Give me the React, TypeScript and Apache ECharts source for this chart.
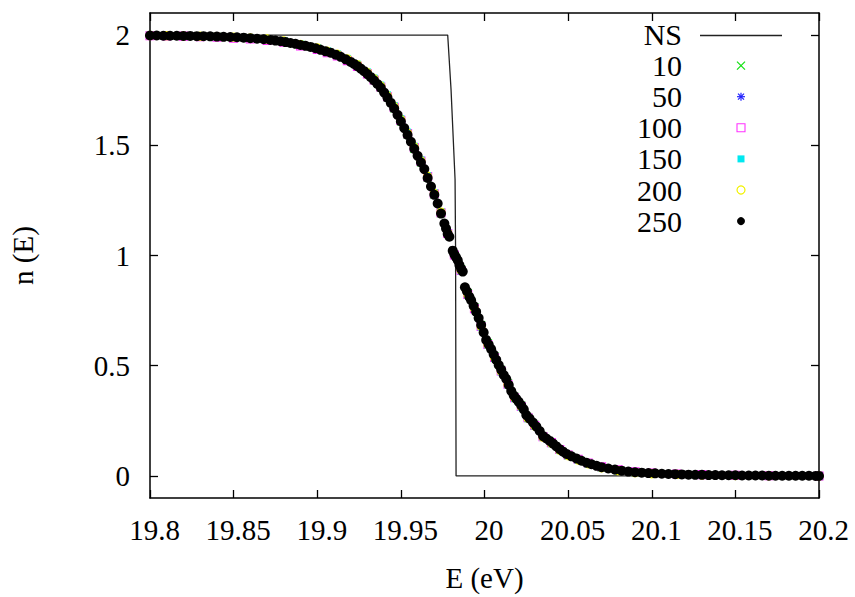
import React, { useEffect, useRef } from 'react';
import * as echarts from 'echarts';

const X_TICKS = [19.8, 19.85, 19.9, 19.95, 20, 20.05, 20.1, 20.15, 20.2];
const Y_TICKS = [0, 0.5, 1, 1.5, 2];
const LEGEND_LABELS = ['NS', '10', '50', '100', '150', '200', '250'];

// NS step curve
const NS_E = [19.8, 19.978, 19.98, 19.9824, 19.9827, 19.983, 20.2];
const NS_N = [2, 2, 1.752, 1.345, 1.03, 0, 0];

// N = 250 (black dots, dense)
const E250 = [
  19.800, 19.804, 19.808, 19.812, 19.816, 19.820, 19.824, 19.828, 19.832, 19.836,
  19.840, 19.844, 19.848, 19.852, 19.856, 19.860, 19.864, 19.868, 19.872, 19.875,
  19.878, 19.881, 19.884, 19.887, 19.890, 19.893, 19.896, 19.899, 19.902, 19.905,
  19.908, 19.911, 19.914, 19.917, 19.920, 19.922, 19.924, 19.926, 19.928, 19.930,
  19.932, 19.934, 19.936, 19.938, 19.940, 19.942, 19.944, 19.946, 19.948, 19.950,
  19.952, 19.954, 19.956, 19.958, 19.960, 19.962, 19.964, 19.966, 19.968, 19.970,
  19.972, 19.974, 19.976, 19.977, 19.978, 19.979, 19.981, 19.982, 19.983, 19.984,
  19.985, 19.986, 19.987, 19.9883, 19.9895, 19.991, 19.992, 19.9935, 19.995, 19.9965,
  19.998, 19.9995, 20.001, 20.0025, 20.004, 20.0055, 20.007, 20.0085, 20.010, 20.0115,
  20.013, 20.0145, 20.016, 20.0175, 20.019, 20.0205, 20.022, 20.0235, 20.025, 20.027,
  20.029, 20.031, 20.033, 20.035, 20.037, 20.039, 20.041, 20.043, 20.045, 20.047,
  20.049, 20.052, 20.055, 20.058, 20.061, 20.064, 20.067, 20.070, 20.074, 20.078,
  20.082, 20.086, 20.090, 20.094, 20.098, 20.102, 20.106, 20.110, 20.114, 20.118,
  20.122, 20.126, 20.130, 20.134, 20.138, 20.142, 20.146, 20.150, 20.154, 20.158,
  20.162, 20.166, 20.170, 20.174, 20.178, 20.182, 20.186, 20.190, 20.194, 20.198,
  20.200,
];
const N250 = [
  1.998, 1.998, 1.997, 1.997, 1.997, 1.996, 1.996, 1.995, 1.995, 1.994,
  1.993, 1.992, 1.991, 1.990, 1.988, 1.986, 1.983, 1.981, 1.978, 1.975,
  1.972, 1.968, 1.964, 1.960, 1.955, 1.951, 1.946, 1.940, 1.933, 1.926,
  1.920, 1.911, 1.901, 1.890, 1.878, 1.869, 1.859, 1.848, 1.836, 1.823,
  1.809, 1.794, 1.778, 1.761, 1.739, 1.716, 1.692, 1.667, 1.638, 1.608,
  1.578, 1.547, 1.516, 1.484, 1.452, 1.422, 1.392, 1.352, 1.313, 1.275,
  1.236, 1.190, 1.145, 1.122, 1.098, 1.085, 1.022, 1.005, 0.992, 0.978,
  0.957, 0.940, 0.927, 0.856, 0.838, 0.812, 0.797, 0.772, 0.745, 0.716,
  0.685, 0.651, 0.617, 0.596, 0.575, 0.551, 0.527, 0.503, 0.482, 0.458,
  0.440, 0.413, 0.385, 0.365, 0.350, 0.336, 0.320, 0.302, 0.276, 0.260,
  0.242, 0.224, 0.204, 0.181, 0.170, 0.159, 0.147, 0.134, 0.121, 0.110,
  0.100, 0.089, 0.079, 0.069, 0.060, 0.053, 0.046, 0.040, 0.034, 0.029,
  0.024, 0.020, 0.017, 0.015, 0.013, 0.012, 0.010, 0.009, 0.008, 0.007,
  0.006, 0.005, 0.005, 0.004, 0.004, 0.003, 0.003, 0.003, 0.002, 0.002,
  0.002, 0.002, 0.001, 0.001, 0.001, 0.001, 0.001, 0.001, 0.001, 0.000,
  0.000,
];

// Other N values (coarser sampling, mostly hidden beneath the black dots)
const E_COARSE = [
  19.800, 19.810, 19.820, 19.830, 19.840, 19.850, 19.860, 19.870, 19.880, 19.890,
  19.900, 19.906, 19.912, 19.918, 19.924, 19.930, 19.934, 19.938, 19.942, 19.946,
  19.950, 19.954, 19.958, 19.962, 19.966, 19.970, 19.974, 19.978, 19.982, 19.986,
  19.990, 19.994, 19.998, 20.002, 20.006, 20.010, 20.014, 20.018, 20.022, 20.026,
  20.030, 20.035, 20.040, 20.045, 20.050, 20.056, 20.062, 20.070, 20.080, 20.090,
  20.100, 20.115, 20.130, 20.150, 20.170, 20.200,
];
const N10 = [
  1.998, 1.997, 1.996, 1.995, 1.993, 1.990, 1.986, 1.980, 1.971, 1.955,
  1.939, 1.924, 1.909, 1.887, 1.860, 1.824, 1.795, 1.762, 1.717, 1.668,
  1.609, 1.548, 1.485, 1.423, 1.353, 1.276, 1.191, 1.099, 1.004, 0.938,
  0.829, 0.765, 0.684, 0.602, 0.542, 0.481, 0.421, 0.359, 0.319, 0.267,
  0.232, 0.180, 0.152, 0.120, 0.095, 0.075, 0.057, 0.039, 0.025, 0.016,
  0.011, 0.007, 0.005, 0.003, 0.001, 0.000,
];
const N50 = [
  1.998, 1.997, 1.996, 1.995, 1.993, 1.990, 1.986, 1.980, 1.971, 1.956,
  1.939, 1.924, 1.909, 1.888, 1.861, 1.825, 1.796, 1.763, 1.718, 1.669,
  1.610, 1.549, 1.486, 1.424, 1.354, 1.277, 1.192, 1.099, 1.003, 0.937,
  0.828, 0.764, 0.683, 0.601, 0.541, 0.480, 0.420, 0.358, 0.318, 0.266,
  0.231, 0.180, 0.152, 0.120, 0.095, 0.075, 0.057, 0.039, 0.025, 0.016,
  0.011, 0.007, 0.004, 0.002, 0.001, 0.000,
];
const N100 = [
  1.997, 1.996, 1.995, 1.993, 1.990, 1.986, 1.982, 1.976, 1.967, 1.951,
  1.935, 1.920, 1.905, 1.884, 1.858, 1.824, 1.796, 1.764, 1.720, 1.672,
  1.613, 1.553, 1.490, 1.428, 1.358, 1.280, 1.194, 1.100, 1.002, 0.932,
  0.823, 0.759, 0.678, 0.596, 0.537, 0.476, 0.416, 0.355, 0.315, 0.264,
  0.229, 0.178, 0.151, 0.120, 0.095, 0.076, 0.059, 0.042, 0.028, 0.019,
  0.013, 0.009, 0.006, 0.003, 0.001, 0.000,
];
const N150 = [
  1.998, 1.997, 1.996, 1.995, 1.993, 1.991, 1.987, 1.982, 1.974, 1.959,
  1.943, 1.929, 1.915, 1.894, 1.868, 1.833, 1.805, 1.773, 1.729, 1.680,
  1.621, 1.560, 1.496, 1.434, 1.363, 1.285, 1.199, 1.105, 1.003, 0.930,
  0.820, 0.756, 0.675, 0.593, 0.533, 0.472, 0.412, 0.351, 0.311, 0.259,
  0.225, 0.174, 0.146, 0.115, 0.090, 0.071, 0.054, 0.037, 0.023, 0.015,
  0.010, 0.006, 0.004, 0.002, 0.001, 0.000,
];
const N200 = [
  1.998, 1.997, 1.996, 1.995, 1.993, 1.991, 1.987, 1.982, 1.973, 1.958,
  1.942, 1.927, 1.913, 1.892, 1.866, 1.830, 1.802, 1.769, 1.725, 1.676,
  1.617, 1.556, 1.493, 1.430, 1.360, 1.282, 1.197, 1.103, 1.003, 0.933,
  0.823, 0.759, 0.678, 0.596, 0.536, 0.475, 0.415, 0.354, 0.314, 0.262,
  0.227, 0.176, 0.148, 0.117, 0.092, 0.072, 0.055, 0.037, 0.024, 0.015,
  0.010, 0.007, 0.004, 0.002, 0.001, 0.000,
];

const FONT = 'Liberation Serif';
const X_PATH = 'path://M0 0L10 10M10 0L0 10';
const STAR_PATH = 'path://M5 0L5 10M0 5L10 5M1.5 1.5L8.5 8.5M8.5 1.5L1.5 8.5';

const C_GREEN = '#11e011';
const C_BLUE = '#2222ff';
const C_MAGENTA = '#ff33ff';
const C_CYAN = '#00e8f0';
const C_YELLOW = '#f2f200';

function pairs(xs: number[], ys: number[]) {
  return xs.map((x, i) => [x, ys[i]]);
}

export default function App() {
  const ref = useRef<HTMLDivElement>(null);
  useEffect(() => {
    if (!ref.current) return;
    const chart = echarts.init(ref.current, null, { renderer: 'svg' });
    const axisLine = { show: true, onZero: false, lineStyle: { color: '#000', width: 1.5 } };
    const tickStyle = { color: '#000', width: 1.3 };
    const labelFont = { fontFamily: FONT, fontSize: 29, color: '#000' };

    const legY0 = 34.5;
    const legDY = 31.1;
    const legTextX = 682;
    const legMarkX = 741;
    const gEls: any[] = [];
    LEGEND_LABELS.forEach((lab, i) => {
      gEls.push({
        type: 'text',
        style: {
          text: lab, x: legTextX, y: legY0 + i * legDY, align: 'right', verticalAlign: 'middle',
          fontFamily: FONT, fontSize: 30, fill: '#000',
        },
        z: 100,
      });
    });
    const yOf = (i: number) => legY0 + i * legDY;
    gEls.push({ type: 'line', shape: { x1: 700, y1: 35.5, x2: 782, y2: 35.5 }, style: { stroke: '#222', lineWidth: 1.3 }, z: 100 });
    gEls.push({ type: 'line', shape: { x1: legMarkX - 4, y1: yOf(1) - 4, x2: legMarkX + 4, y2: yOf(1) + 4 }, style: { stroke: C_GREEN, lineWidth: 1.2 }, z: 100 });
    gEls.push({ type: 'line', shape: { x1: legMarkX + 4, y1: yOf(1) - 4, x2: legMarkX - 4, y2: yOf(1) + 4 }, style: { stroke: C_GREEN, lineWidth: 1.2 }, z: 100 });
    [[0, -4, 0, 4], [-4, 0, 4, 0], [-3, -3, 3, 3], [3, -3, -3, 3]].forEach((s) => {
      gEls.push({ type: 'line', shape: { x1: legMarkX + s[0], y1: yOf(2) + s[1], x2: legMarkX + s[2], y2: yOf(2) + s[3] }, style: { stroke: C_BLUE, lineWidth: 1.2 }, z: 100 });
    });
    gEls.push({ type: 'rect', shape: { x: legMarkX - 4, y: yOf(3) - 4, width: 8, height: 8 }, style: { fill: 'none', stroke: C_MAGENTA, lineWidth: 1.1 }, z: 100 });
    gEls.push({ type: 'rect', shape: { x: legMarkX - 3.5, y: yOf(4) - 3.5, width: 7, height: 7 }, style: { fill: C_CYAN }, z: 100 });
    gEls.push({ type: 'circle', shape: { cx: legMarkX, cy: yOf(5), r: 4 }, style: { fill: 'none', stroke: C_YELLOW, lineWidth: 1.2 }, z: 100 });
    gEls.push({ type: 'circle', shape: { cx: legMarkX, cy: yOf(6), r: 4 }, style: { fill: '#000' }, z: 100 });

    const option: any = {
      animation: false,
      textStyle: { fontFamily: FONT },
      grid: { left: 150, right: 36, top: 13, bottom: 97, containLabel: false },
      xAxis: [
        {
          type: 'value', min: 19.8, max: 20.2, position: 'bottom',
          axisLine,
          axisTick: { show: true, inside: true, length: 8, customValues: X_TICKS, lineStyle: tickStyle },
          axisLabel: { ...labelFont, margin: 17, customValues: X_TICKS, padding: [0, 0, 0, 9] },
          splitLine: { show: false },
          name: 'E (eV)', nameLocation: 'middle', nameGap: 65,
          nameTextStyle: { fontFamily: FONT, fontSize: 29, color: '#000' },
        },
        {
          type: 'value', min: 19.8, max: 20.2, position: 'top',
          axisLine,
          axisTick: { show: true, inside: true, length: 8, customValues: X_TICKS, lineStyle: tickStyle },
          axisLabel: { show: false },
          splitLine: { show: false },
        },
      ],
      yAxis: [
        {
          type: 'value', min: -0.1, max: 2.1, position: 'left',
          axisLine,
          axisTick: { show: true, inside: true, length: 8, customValues: Y_TICKS, lineStyle: tickStyle },
          axisLabel: { ...labelFont, margin: 20, customValues: Y_TICKS },
          splitLine: { show: false },
          name: 'n (E)', nameLocation: 'middle', nameGap: 113, nameRotate: 90,
          nameTextStyle: { fontFamily: FONT, fontSize: 29, color: '#000' },
        },
        {
          type: 'value', min: -0.1, max: 2.1, position: 'right',
          axisLine,
          axisTick: { show: true, inside: true, length: 8, customValues: Y_TICKS, lineStyle: tickStyle },
          axisLabel: { show: false },
          splitLine: { show: false },
        },
      ],
      series: [
        {
          name: 'NS', type: 'line', data: pairs(NS_E, NS_N), showSymbol: false, symbol: 'none',
          lineStyle: { color: '#222', width: 1.3 }, z: 2,
        },
        {
          name: '10', type: 'scatter', data: pairs(E_COARSE, N10), symbol: X_PATH, symbolSize: 8,
          itemStyle: { color: C_GREEN, borderColor: C_GREEN, borderWidth: 1.2, opacity: 1 }, z: 3,
        },
        {
          name: '50', type: 'scatter', data: pairs(E_COARSE, N50), symbol: STAR_PATH, symbolSize: 8,
          itemStyle: { color: C_BLUE, borderColor: C_BLUE, borderWidth: 1.2, opacity: 1 }, z: 3,
        },
        {
          name: '100', type: 'scatter', data: pairs(E_COARSE, N100), symbol: 'rect', symbolSize: 8,
          itemStyle: { color: 'rgba(0,0,0,0)', borderColor: C_MAGENTA, borderWidth: 1.1, opacity: 1 }, z: 3,
        },
        {
          name: '150', type: 'scatter', data: pairs(E_COARSE, N150), symbol: 'rect', symbolSize: 7,
          itemStyle: { color: C_CYAN, opacity: 1 }, z: 3,
        },
        {
          name: '200', type: 'scatter', data: pairs(E_COARSE, N200), symbol: 'circle', symbolSize: 8,
          itemStyle: { color: 'rgba(0,0,0,0)', borderColor: C_YELLOW, borderWidth: 1.2, opacity: 1 }, z: 3,
        },
        {
          name: '250', type: 'scatter', data: pairs(E250, N250), symbol: 'circle', symbolSize: 10,
          itemStyle: { color: '#000', opacity: 1 }, z: 4,
        },
      ],
      graphic: { elements: gEls },
    };
    chart.setOption(option);
    return () => chart.dispose();
  }, []);
  return (
    <div
      ref={ref}
      style={{ position: 'fixed', left: 0, top: 0, width: 855, height: 597, background: '#fff' }}
    />
  );
}
